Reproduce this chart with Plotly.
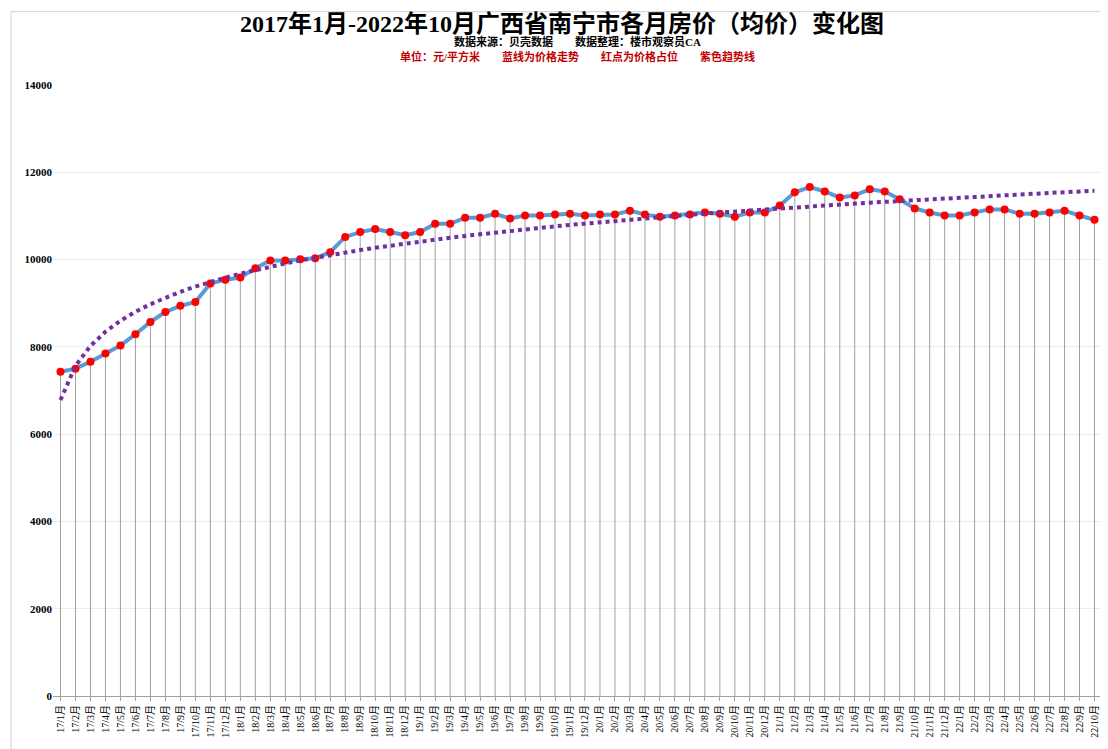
import numpy as np
import plotly.graph_objects as go

# 月份标签
months = []
for yr in range(17, 23):
    for m in range(1, 13):
        if yr == 22 and m > 10:
            break
        months.append(f"{yr}/{m}月")

# 均价（元/平方米）
prices = [7430, 7500, 7660, 7850, 8030, 8290, 8570, 8800, 8940, 9030, 9450, 9540,
          9590, 9800, 9980, 9980, 10010, 10030, 10170, 10520, 10630, 10700, 10630, 10560,
          10630, 10820, 10820, 10960, 10960, 11050, 10940, 11010, 11010, 11030, 11050, 11010,
          11030, 11030, 11120, 11030, 10980, 11010, 11030, 11080, 11050, 10980, 11080, 11080,
          11240, 11540, 11660, 11560, 11420, 11470, 11610, 11560, 11380, 11170, 11080, 11010,
          11010, 11080, 11150, 11150, 11050, 11050, 11080, 11120, 11010, 10910]

# 对数趋势线
xi = np.arange(1, len(prices) + 1)
b, a = np.polyfit(np.log(xi), prices, 1)
trend = a + b * np.log(xi)

fig = go.Figure()

# 垂直线
dx, dy = [], []
for m, p in zip(months, prices):
    dx += [m, m, None]
    dy += [0, p, None]
fig.add_trace(go.Scatter(x=dx, y=dy, mode="lines", line=dict(color="#a0a0a0", width=1),
                         hoverinfo="skip", showlegend=False))

fig.add_trace(go.Scatter(x=months, y=prices, mode="lines+markers",
                         line=dict(color="#5b9bd5", width=4),
                         marker=dict(color="#ff0000", size=8), showlegend=False))

fig.add_trace(go.Scatter(x=months, y=trend, mode="lines",
                         line=dict(color="#7030a0", width=4, dash="dot"), showlegend=False))

fig.update_layout(
    width=1108, height=749,
    paper_bgcolor="white", plot_bgcolor="white",
    margin=dict(l=45, r=14, t=77, b=61),
    font=dict(family="Liberation Serif, Noto Sans CJK SC", color="black"),
    title=dict(text="<b>2017年1月-2022年10月广西省南宁市各月房价（均价）变化图</b>",
               x=0.5, y=0.99, yanchor="top", font=dict(size=24)),
    shapes=[dict(type="rect", xref="paper", yref="paper", x0=-0.04, x1=1.012, y0=-0.1, y1=1.12,
                 line=dict(color="#d0d0d0", width=1))],
    annotations=[
        dict(text="<b>数据来源：贝壳数据　　数据整理：楼市观察员CA</b>", x=0.5, y=1.085,
             xref="paper", yref="paper", showarrow=False, font=dict(size=11)),
        dict(text="<b>单位：元/平方米　　蓝线为价格走势　　红点为价格占位　　紫色趋势线</b>", x=0.5, y=1.06,
             xref="paper", yref="paper", showarrow=False, font=dict(size=11, color="#c00000")),
    ],
)
fig.update_xaxes(tickangle=-90, tickfont=dict(size=10, family="Liberation Serif, Noto Sans CJK SC"),
                 showgrid=False, showline=True, linecolor="#a0a0a0", ticks="outside",
                 ticklen=4, tickcolor="#a0a0a0", range=[-0.5, len(months) - 0.5])
fig.update_yaxes(range=[0, 14000], dtick=2000, tickformat="d", gridcolor="#ececec",
                 tickfont=dict(size=11), tickprefix="<b>", ticksuffix="</b>", zeroline=False)

fig.write_html("out.html")
